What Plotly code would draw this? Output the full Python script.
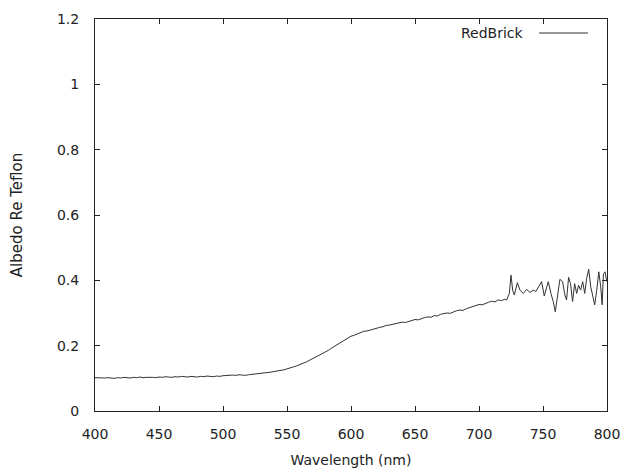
import plotly.graph_objects as go

# Smooth part, 400..720 nm every 2.5 nm (hand-read with small wiggles)
wl_smooth = [400 + 2.5 * i for i in range(129)]
alb_smooth = [
    0.102, 0.101, 0.100, 0.101, 0.102, 0.101, 0.100, 0.102, 0.101, 0.103,  # 400-422.5
    0.102, 0.101, 0.103, 0.102, 0.104, 0.102, 0.103, 0.104, 0.103, 0.102,  # 425-447.5
    0.104, 0.103, 0.105, 0.104, 0.103, 0.105, 0.104, 0.106, 0.105, 0.104,  # 450-472.5
    0.106, 0.105, 0.104, 0.106, 0.105, 0.107, 0.106, 0.105, 0.107, 0.106,  # 475-497.5
    0.108, 0.109, 0.108, 0.110, 0.109, 0.111, 0.110, 0.109, 0.111, 0.112,  # 500-522.5
    0.112, 0.114, 0.115, 0.117, 0.118, 0.119, 0.121, 0.122, 0.124, 0.126,  # 525-547.5
    0.129, 0.131, 0.135, 0.138, 0.143, 0.146, 0.150, 0.155, 0.160, 0.164,  # 550-572.5
    0.170, 0.175, 0.181, 0.186, 0.193, 0.199, 0.206, 0.210, 0.217, 0.222,  # 575-597.5
    0.229, 0.232, 0.236, 0.240, 0.244, 0.245, 0.248, 0.252, 0.253, 0.256,  # 600-622.5
    0.258, 0.262, 0.263, 0.265, 0.267, 0.270, 0.272, 0.271, 0.274, 0.276,  # 625-647.5
    0.280, 0.279, 0.283, 0.286, 0.288, 0.287, 0.292, 0.291, 0.296, 0.298,  # 650-672.5
    0.300, 0.299, 0.304, 0.307, 0.309, 0.308, 0.313, 0.316, 0.318, 0.322,  # 675-697.5
    0.326, 0.325, 0.330, 0.333, 0.336, 0.334, 0.340, 0.338, 0.342,         # 700-720
]
# Noisy part, 721..800 nm
wl_noisy = [721.6, 723.7, 725.0, 726.3, 727.6, 730.0, 732.0, 734.6, 737.2, 739.8,
            742.4, 744.4, 746.3, 748.9, 751.0, 754.1, 756.2, 758.0, 759.6, 761.1,
            763.2, 765.3, 767.1, 768.4, 770.0, 771.5, 773.1, 774.7, 776.3, 777.8,
            779.4, 781.0, 782.6, 784.1, 785.7, 787.3, 788.8, 790.4, 792.0, 793.6,
            795.1, 796.2, 797.2, 798.5, 799.8]
alb_noisy = [0.340, 0.360, 0.416, 0.370, 0.355, 0.393, 0.370, 0.360, 0.372, 0.363,
             0.370, 0.366, 0.378, 0.396, 0.352, 0.396, 0.360, 0.335, 0.304, 0.340,
             0.403, 0.396, 0.355, 0.340, 0.409, 0.390, 0.335, 0.390, 0.360, 0.385,
             0.370, 0.396, 0.360, 0.406, 0.434, 0.380, 0.350, 0.325, 0.370, 0.426,
             0.380, 0.325, 0.420, 0.426, 0.396]

wavelength = wl_smooth + wl_noisy
albedo = alb_smooth + alb_noisy

x_ticks = [400, 450, 500, 550, 600, 650, 700, 750, 800]
y_ticks = [0, 0.2, 0.4, 0.6, 0.8, 1, 1.2]
y_ticktext = ["0", "0.2", "0.4", "0.6", "0.8", "1", "1.2"]

font = dict(family="DejaVu Sans", size=14, color="#222")

fig = go.Figure()
fig.add_trace(go.Scatter(x=wavelength, y=albedo, mode="lines", name="RedBrick",
                         line=dict(color="#333", width=1), showlegend=False))

axis_common = dict(showline=True, linecolor="#222", linewidth=1, mirror="ticks",
                   ticks="inside", ticklen=5, tickcolor="#222", showgrid=False,
                   zeroline=False, tickfont=font, automargin=False)
fig.update_xaxes(range=[400, 800], tickvals=x_ticks, ticklabelstandoff=10,
                 title=dict(text="Wavelength (nm)", font=font, standoff=14),
                 **axis_common)
fig.update_yaxes(range=[0, 1.2], tickvals=y_ticks, ticktext=y_ticktext,
                 ticklabelstandoff=12,
                 title=dict(text="Albedo Re Teflon", font=dict(family="DejaVu Sans", size=15, color="#222"),
                            standoff=30),
                 **axis_common)

# gnuplot-style key: text then line sample
ky = 1 - (33 - 19) / 392
fig.add_annotation(xref="x domain", yref="y domain", x=(526 - 95) / 512, y=ky,
                   text="RedBrick", showarrow=False, font=font,
                   xanchor="right", yanchor="middle")
fig.add_shape(type="line", xref="x domain", yref="y domain",
              x0=(539 - 95) / 512, x1=(588 - 95) / 512, y0=ky, y1=ky,
              line=dict(color="#333", width=1))

fig.update_layout(width=626, height=472, margin=dict(l=95, r=19, t=19, b=61),
                  paper_bgcolor="white", plot_bgcolor="white", font=font)
fig.write_html("out.html")
